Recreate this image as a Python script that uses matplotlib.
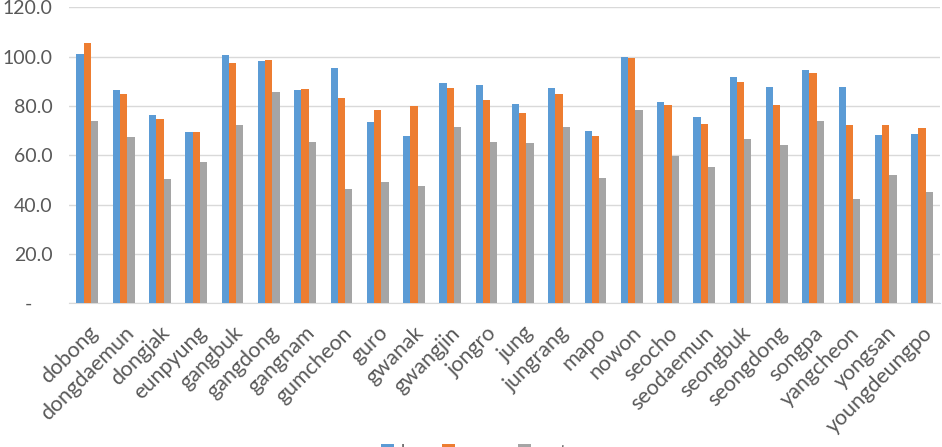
import matplotlib
matplotlib.use('Agg')
import matplotlib.pyplot as plt
import numpy as np

# districts and values
districts = ['dobong', 'dongdaemun', 'dongjak', 'eunpyung', 'gangbuk', 'gangdong',
             'gangnam', 'gumcheon', 'guro', 'gwanak', 'gwangjin', 'jongro', 'jung',
             'jungrang', 'mapo', 'nowon', 'seocho', 'seodaemun', 'seongbuk',
             'seongdong', 'songpa', 'yangcheon', 'yongsan', 'youngdeungpo']
blue_vals = [101.2, 86.4, 76.3, 69.5, 100.7, 98.2, 86.4, 95.5, 73.6, 67.7, 89.3, 88.3,
             80.7, 87.1, 69.8, 99.8, 81.7, 75.7, 91.7, 87.5, 94.6, 87.5, 68.1, 68.5]
orange_vals = [105.5, 84.7, 74.6, 69.5, 97.3, 98.5, 86.8, 83.3, 78.3, 79.9, 87.2, 82.5,
               77.0, 85.0, 67.7, 99.6, 80.5, 72.8, 89.7, 80.5, 93.5, 72.1, 72.1, 70.9]
gray_vals = [74.1, 67.3, 50.5, 57.3, 72.1, 85.5, 65.3, 46.3, 49.3, 47.6, 71.5, 65.3,
             64.8, 71.3, 50.8, 78.3, 59.9, 55.1, 66.7, 64.3, 73.7, 42.1, 51.9, 45.0]
series_names = ['low', 'mean', 'rest']
y_ticks = [0, 20, 40, 60, 80, 100, 120]

plt.rcParams['font.family'] = ['Lato', 'DejaVu Sans']

fig = plt.figure(figsize=(9.42, 4.47), dpi=100)
ax = fig.add_axes([0.0735, 0.3215, 0.9245, 0.6622])

x = np.arange(len(districts))
w = 0.2
ax.bar(x - w, blue_vals, w, color='#5B9BD5', label=series_names[0], zorder=3)
ax.bar(x, orange_vals, w, color='#ED7D31', label=series_names[1], zorder=3)
ax.bar(x + w, gray_vals, w, color='#A5A5A5', label=series_names[2], zorder=3)

ax.set_xlim(-0.5, len(districts) - 0.5)
ax.set_ylim(0, 120)
ax.set_yticks(y_ticks)
ax.set_yticklabels(['-    ' if v == 0 else f'{v:.1f}' for v in y_ticks])
ax.set_xticks(x)
ax.set_xticklabels(districts, rotation=45, ha='right', rotation_mode='anchor')

ax.tick_params(axis='y', length=0, labelsize=14, colors='#595959', pad=12)
ax.tick_params(axis='x', length=0, labelsize=15.5, colors='#595959', pad=14)
ax.grid(axis='y', color='#D9D9D9', linewidth=1, zorder=0)
for s in ['top', 'right', 'left']:
    ax.spines[s].set_visible(False)
ax.spines['bottom'].set_color('#D9D9D9')

# legend sits mostly below the bottom edge, as in the original screenshot
fig.legend(loc='upper center', bbox_to_anchor=(0.503, 0.027), ncol=3, frameon=False,
           fontsize=12.5, handlelength=0.75, handleheight=0.75, handletextpad=0.4,
           columnspacing=0.8, borderpad=0, labelcolor='#595959')

fig.savefig('out.png', dpi=100)
